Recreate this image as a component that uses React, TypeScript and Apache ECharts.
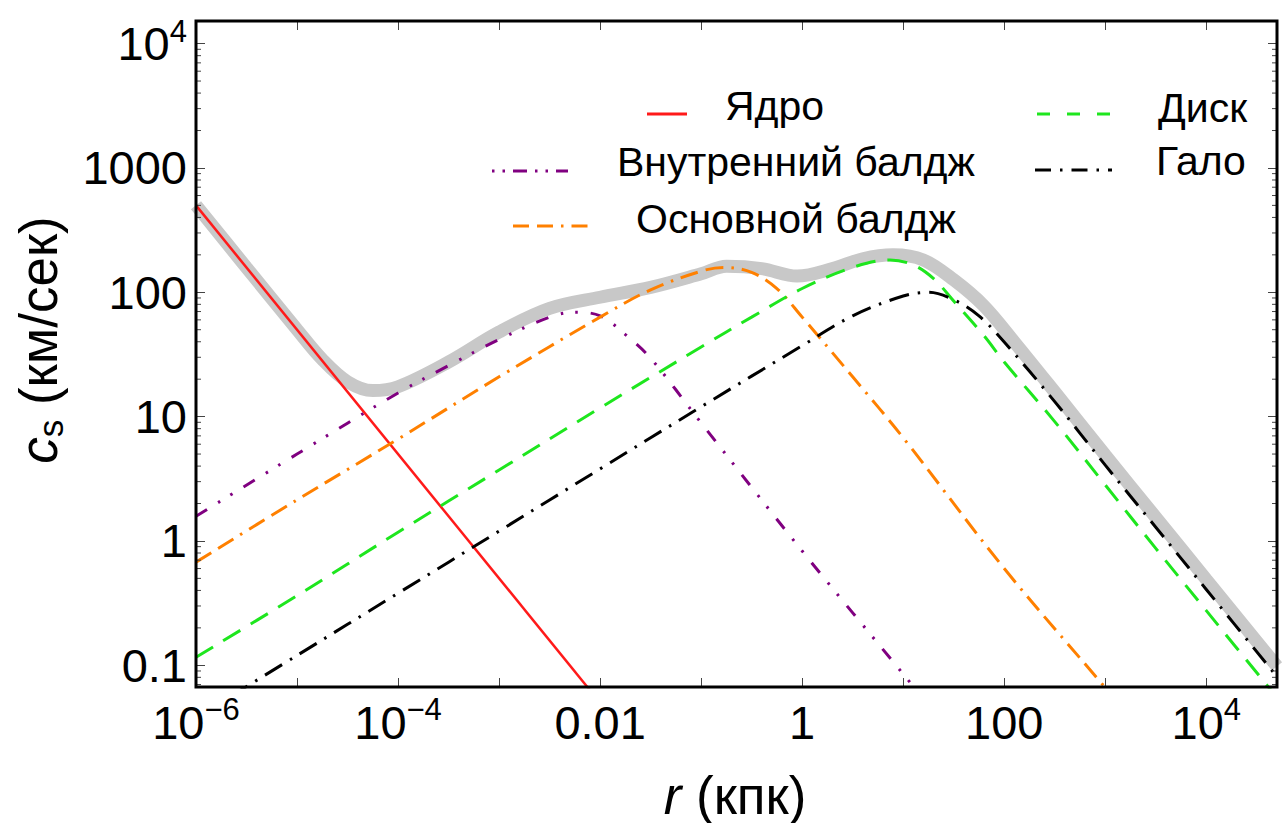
import { useEffect, useRef } from 'react';
import * as echarts from 'echarts';

// ---- axis ranges (kpc, km/s) ----
const X_MIN = 1e-6;
const X_MAX = 5.01e4;
const Y_MIN = 0.0669;
const Y_MAX = 15200;

// ---- tick labels ----
const xTickExps = [-6, -4, -2, 0, 2, 4];
const xTickTexts = ['{b|10}{s|−6}', '{b|10}{s|−4}', '{b|0.01}', '{b|1}', '{b|100}', '{b|10}{s|4}'];
const yTickExps = [-1, 0, 1, 2, 3, 4];
const yTickTexts = ['{b|0.1}', '{b|1}', '{b|10}', '{b|100}', '{b|1000}', '{b|10}{s|4}'];

// ---- series data: [r (кпк), c_s (км/сек)] ----
const coreData: [number, number][] = [
  [1e-6, 500], [1e-2, 0.05],
];
const innerBulgeData: [number, number][] = [
  [1e-6, 1.58], [1e-5, 5.0], [1e-4, 15.5], [3.16e-4, 25.7], [1e-3, 41.7], [3.16e-3, 63.1],
  [5.62e-3, 69.2], [1e-2, 64.6], [1.78e-2, 45.7], [3.16e-2, 29.5], [0.1, 8.9], [1, 0.83],
  [10, 0.085], [31.6, 0.027],
];
const mainBulgeData: [number, number][] = [
  [1e-6, 0.676], [1e-5, 2.14], [1e-4, 6.6], [1e-3, 20.9], [1e-2, 63.1], [3.16e-2, 104.7],
  [0.1, 147.9], [0.166, 158.5], [0.316, 144.5], [0.562, 107.2], [1, 63.1], [3.16, 20.9],
  [10, 6.76], [100, 0.6], [1000, 0.066], [1585, 0.042],
];
const diskData: [number, number][] = [
  [1e-6, 0.116], [1e-5, 0.363], [1e-4, 1.175], [1e-3, 3.72], [1e-2, 11.75], [0.1, 36.3],
  [0.316, 63.1], [1, 107.2], [3.16, 158.5], [7.41, 182], [12.6, 166], [20, 128.8],
  [31.6, 85.1], [63.1, 44.7], [100, 27.5], [316, 9.12], [1000, 2.82], [3162, 0.871],
  [1e4, 0.275], [5.01e4, 0.055],
];
const haloData: [number, number][] = [
  [1e-6, 0.038], [1e-5, 0.12], [1e-4, 0.38], [1e-3, 1.2], [1e-2, 3.8], [0.1, 12.0],
  [1, 37.2], [3.16, 64.6], [10, 93.3], [17.8, 100], [31.6, 87.1], [56.2, 64.6],
  [100, 39.8], [316, 13.2], [1000, 4.07], [3162, 1.29], [1e4, 0.407], [5.01e4, 0.081],
];
const totalData: [number, number][] = [
  [1e-6, 501], [3.16e-6, 158], [1e-5, 50.1], [1.78e-5, 28.8], [3.16e-5, 19.1], [5.62e-5, 16.2],
  [1e-4, 17.4], [3.16e-4, 27.5], [1e-3, 47.9], [3.16e-3, 74.1], [1e-2, 91.2], [3.16e-2, 109.6],
  [0.1, 141], [0.178, 162], [0.398, 155], [0.891, 135], [2.0, 155], [3.98, 186], [7.94, 200],
  [15.8, 182], [31.6, 126], [63.1, 77.6], [126, 39.8], [316, 15.8], [1000, 4.9], [3162, 1.55],
  [1e4, 0.49], [5.01e4, 0.098],
];

const FONT = "'Liberation Sans', Arial, sans-serif";

const C_CORE = '#ff1a1a';
const C_INNER = '#800080';
const C_MAIN = '#ff8000';
const C_DISK = '#1ee61e';
const C_HALO = '#000000';
const C_TOTAL = '#c8c8c8';

const DASH_INNER = [13, 13, 2.5, 12, 2.5, 13];
const DASH_MAIN = [18, 8, 18, 8, 2.5, 8];
const DASH_DISK = [20, 12];
const DASH_HALO = [20, 9, 2.5, 9];

function labelFor(v: number, exps: number[], texts: string[]) {
  const l = Math.log10(v);
  const e = Math.round(l);
  if (Math.abs(l - e) > 1e-6) return '';
  const i = exps.indexOf(e);
  return i >= 0 ? texts[i] : '';
}

const rich = {
  b: { fontSize: 47, fontFamily: FONT, color: '#000', lineHeight: 56 },
  s: { fontSize: 31, fontFamily: FONT, color: '#000', verticalAlign: 'top', lineHeight: 28 },
};

export default function App() {
  const ref = useRef<HTMLDivElement>(null);
  useEffect(() => {
    const chart = echarts.init(ref.current!, null, { renderer: 'svg' });
    const tick = { inside: true, length: 9, lineStyle: { color: '#444', width: 1 } };
    const lineSeries = (name: string, data: [number, number][], color: string, width: number, dash: any, z: number) => ({
      name,
      type: 'line',
      data,
      showSymbol: false,
      symbol: 'none',
      smooth: 0.35,
      clip: true,
      z,
      lineStyle: { color, width, type: dash, cap: 'butt' },
      emphasis: { disabled: true },
    });
    chart.setOption({
      animation: false,
      backgroundColor: '#fff',
      grid: { left: 196, right: 7, top: 21, bottom: 136, outerBoundsMode: 'none' },
      xAxis: [
        {
          type: 'log', logBase: 10, min: X_MIN, max: X_MAX, splitNumber: 20, interval: 1, position: 'bottom',
          axisLine: { show: false }, axisTick: tick, splitLine: { show: false },
          axisLabel: { formatter: (v: number) => labelFor(v, xTickExps, xTickTexts), margin: 7, rich, hideOverlap: false },
        },
        {
          type: 'log', logBase: 10, min: X_MIN, max: X_MAX, splitNumber: 20, interval: 1, position: 'top',
          axisLine: { show: false }, axisTick: tick, splitLine: { show: false }, axisLabel: { show: false },
        },
      ],
      yAxis: [
        {
          type: 'log', logBase: 10, min: Y_MIN, max: Y_MAX, splitNumber: 5, position: 'left',
          axisLine: { show: false }, axisTick: tick, splitLine: { show: false },
          axisLabel: { formatter: (v: number) => labelFor(v, yTickExps, yTickTexts), margin: 9, rich, hideOverlap: false },
        },
        {
          type: 'log', logBase: 10, min: Y_MIN, max: Y_MAX, splitNumber: 5, position: 'right',
          axisLine: { show: false }, axisTick: tick, splitLine: { show: false }, axisLabel: { show: false },
        },
      ],
      series: [
        lineSeries('Сумма', totalData, C_TOTAL, 13, 'solid', 1),
        lineSeries('Ядро', coreData, C_CORE, 2.5, 'solid', 3),
        lineSeries('Внутренний балдж', innerBulgeData, C_INNER, 3, DASH_INNER, 3),
        lineSeries('Основной балдж', mainBulgeData, C_MAIN, 3, DASH_MAIN, 3),
        lineSeries('Диск', diskData, C_DISK, 3, DASH_DISK, 3),
        lineSeries('Гало', haloData, C_HALO, 3, DASH_HALO, 3),
      ],
    });

    // minor ticks on the log y axes, placed by the chart's own scale
    const xl = chart.convertToPixel({ xAxisIndex: 0 }, X_MIN) as number;
    const xr = chart.convertToPixel({ xAxisIndex: 0 }, X_MAX) as number;
    const yt = chart.convertToPixel({ yAxisIndex: 0 }, Y_MAX) as number;
    const yb = chart.convertToPixel({ yAxisIndex: 0 }, Y_MIN) as number;
    const els: any[] = [];
    for (let k = -2; k <= 4; k++) {
      for (let m = 2; m <= 9; m++) {
        const v = m * Math.pow(10, k);
        if (v < Y_MIN || v > Y_MAX) continue;
        const py = chart.convertToPixel({ yAxisIndex: 0 }, v) as number;
        els.push({ type: 'line', silent: true, z: 50, shape: { x1: xl, y1: py, x2: xl + 5, y2: py }, style: { stroke: '#444', lineWidth: 1 } });
        els.push({ type: 'line', silent: true, z: 50, shape: { x1: xr, y1: py, x2: xr - 5, y2: py }, style: { stroke: '#444', lineWidth: 1 } });
      }
    }
    // frame
    els.push({ type: 'rect', silent: true, z: 60, shape: { x: xl, y: yt, width: xr - xl, height: yb - yt }, style: { fill: 'none', stroke: '#000', lineWidth: 3 } });

    // legend
    const legendLine = (x1: number, x2: number, y: number, color: string, dash: any) => ({
      type: 'line', silent: true, z: 40, shape: { x1, y1: y, x2, y2: y },
      style: { stroke: color, lineWidth: 3, lineDash: dash },
    });
    const legendText = (x: number, y: number, text: string) => ({
      type: 'text', silent: true, z: 40, x, y,
      style: { text, fontSize: 41, fontFamily: FONT, fill: '#000', align: 'left', verticalAlign: 'middle' },
    });
    els.push(legendLine(647, 687, 114, C_CORE, null));
    els.push(legendText(725, 106, 'Ядро'));
    els.push(legendLine(492, 568, 171, C_INNER, [2.5, 8, 2.5, 8, 14, 8]));
    els.push(legendText(617, 162, 'Внутренний балдж'));
    els.push(legendLine(513, 595, 226, C_MAIN, [16, 8, 16, 8, 2.5, 8]));
    els.push(legendText(636, 219, 'Основной балдж'));
    els.push(legendLine(1037, 1110, 114, C_DISK, [13, 17]));
    els.push(legendText(1158, 108, 'Диск'));
    els.push(legendLine(1035, 1112, 170, C_HALO, [16, 9, 2.5, 9]));
    els.push(legendText(1156, 161, 'Гало'));

    // axis names
    els.push({
      type: 'text', silent: true, x: 735, y: 795,
      style: {
        text: '{i|r}{n| (кпк)}', align: 'center', verticalAlign: 'middle', fill: '#000',
        rich: {
          i: { fontSize: 53, fontFamily: FONT, fontStyle: 'italic', fill: '#000' },
          n: { fontSize: 53, fontFamily: FONT, fill: '#000' },
        },
      },
    });
    els.push({
      type: 'text', silent: true, x: 38, y: 340, rotation: Math.PI / 2,
      style: {
        text: '{i|c}{s|s}{n| (км/сек)}', align: 'center', verticalAlign: 'middle', fill: '#000',
        rich: {
          i: { fontSize: 53, fontFamily: FONT, fontStyle: 'italic', fill: '#000', lineHeight: 60 },
          s: { fontSize: 35, fontFamily: FONT, fill: '#000', verticalAlign: 'bottom', lineHeight: 32 },
          n: { fontSize: 53, fontFamily: FONT, fill: '#000', lineHeight: 60 },
        },
      },
    });

    chart.setOption({ graphic: { elements: els } });
    return () => chart.dispose();
  }, []);
  return (
    <div
      ref={ref}
      style={{ position: 'fixed', left: 0, top: 0, width: 1284, height: 823, background: '#fff' }}
    />
  );
}
